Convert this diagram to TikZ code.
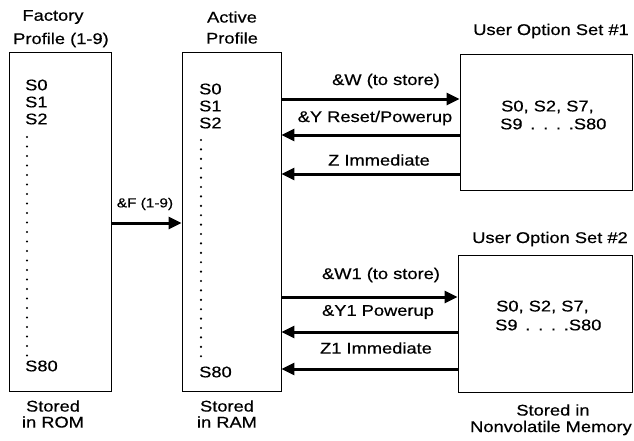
\documentclass[tikz,border=0pt]{standalone}
\usepackage{fontspec}
\setmainfont[FakeStretch=1.18,FakeBold=0.5]{Liberation Sans}
\usetikzlibrary{arrows.meta}
\begin{document}
\begin{tikzpicture}[x=1pt,y=-1pt,
  box/.style={draw=black,line width=0.9pt,inner sep=0pt},
  txt/.style={inner sep=0pt,font=\fontsize{15.5}{17}\selectfont},
  small/.style={inner sep=0pt,font=\fontsize{13}{15}\selectfont},
  arr/.style={line width=3pt,-{Triangle[length=13pt,width=12pt]}},
  dotm/.style={circle,fill=black,inner sep=0pt,minimum size=2.4pt}]
\useasboundingbox (0,0) rectangle (634,440);
% boxes
\node[box,minimum width=102pt,minimum height=339pt] (fac) at (60,221.5) {};
\node[box,minimum width=99pt,minimum height=339pt] (act) at (231.5,221.5) {};
\node[box,minimum width=172pt,minimum height=136pt] (set1) at (546,122) {};
\node[box,minimum width=174pt,minimum height=137pt] (set2) at (545,323.5) {};
% titles
\node[txt] (facT1) at (53,17) {Factory};
\node[txt] (facT2) at (61,40) {Profile (1-9)};
\node[txt] (actT1) at (232,17) {Active};
\node[txt] (actT2) at (232,38) {Profile};
\node[txt] (s1T) at (551,31) {User Option Set \#1};
\node[txt] (s2T) at (550,239) {User Option Set \#2};
% bottom labels
\node[txt] (facB1) at (53,406) {Stored};
\node[txt] (facB2) at (53,422) {in ROM};
\node[txt] (actB1) at (227,406) {Stored};
\node[txt] (actB2) at (227,422) {in RAM};
\node[txt] (nvB1) at (553,410) {Stored in};
\node[txt] (nvB2) at (551,428) {Nonvolatile Memory};
% factory contents
\node[txt,anchor=west] (f0) at (25,85) {S0};
\node[txt,anchor=west] (f1) at (25,102) {S1};
\node[txt,anchor=west] (f2) at (25,119) {S2};
\node[txt,anchor=west] (f80) at (25,366) {S80};
\foreach \i in {0,...,23} {\node[dotm] (fd\i) at (27,{137+9.5*\i}) {};}
% active contents
\node[txt,anchor=west] (a0) at (199,89) {S0};
\node[txt,anchor=west] (a1) at (199,106) {S1};
\node[txt,anchor=west] (a2) at (199,123) {S2};
\node[txt,anchor=west] (a80) at (199,372) {S80};
\foreach \i in {0,...,23} {\node[dotm] (ad\i) at (201,{140+9.4*\i}) {};}
% set contents
\node[txt,anchor=west] (s1a) at (501,107) {S0, S2, S7,};
\node[txt,anchor=west] (s1b) at (500,124) {S9\enspace.\enspace.\enspace.\enspace.S80};
\node[txt,anchor=west] (s2a) at (496,307) {S0, S2, S7,};
\node[txt,anchor=west] (s2b) at (495,325) {S9\enspace.\enspace.\enspace.\enspace.S80};
% arrow rows
\coordinate (yF) at (0,223);
\coordinate (y1) at (0,99);
\coordinate (y2) at (0,135);
\coordinate (y3) at (0,174);
\coordinate (y4) at (0,297);
\coordinate (y5) at (0,332);
\coordinate (y6) at (0,369);
\draw[arr] (fac.east |- yF) -- (act.west |- yF);
\draw[arr] (act.east |- y1) -- (set1.west |- y1);
\draw[arr] (set1.west |- y2) -- (act.east |- y2);
\draw[arr] (set1.west |- y3) -- (act.east |- y3);
\draw[arr] (act.east |- y4) -- (set2.west |- y4);
\draw[arr] (set2.west |- y5) -- (act.east |- y5);
\draw[arr] (set2.west |- y6) -- (act.east |- y6);
% arrow labels
\node[small] (lF) at (145,204) {\&F (1-9)};
\node[txt] (l1) at (386,81) {\&W (to store)};
\node[txt] (l2) at (375,118) {\&Y Reset/Powerup};
\node[txt] (l3) at (379,160) {Z Immediate};
\node[txt] (l4) at (381,275) {\&W1 (to store)};
\node[txt] (l5) at (378,312) {\&Y1 Powerup};
\node[txt] (l6) at (376,348) {Z1 Immediate};
\end{tikzpicture}
\end{document}
